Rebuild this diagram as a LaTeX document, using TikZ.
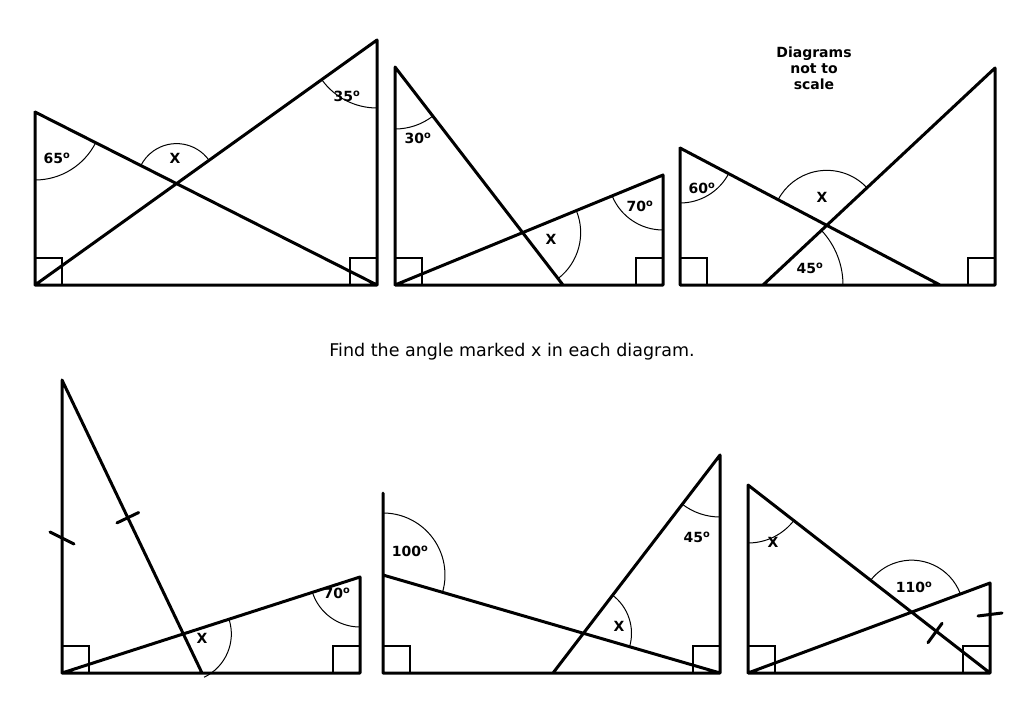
\documentclass[tikz,border=0pt]{standalone}
\usepackage{fontspec}
\setmainfont{DejaVu Sans}
\usetikzlibrary{angles, calc}

\tikzset{
  edge/.style={line width=3pt, line cap=round, line join=round},
  arcline/.style={line width=1pt},
  rsq/.style={line width=2pt},
  lbl/.style={font=\fontsize{14}{16}\selectfont\bfseries},
}
\newcommand{\dg}[1]{#1\textsuperscript{o}}

\begin{document}
\begin{tikzpicture}[x=1pt, y=-1pt]
    \useasboundingbox (0,0) rectangle (1024,709);

    % first diagram
    \coordinate (a1) at (35,112);
    \coordinate (b1) at (35,285);
    \coordinate (c1) at (377,285);
    \coordinate (d1) at (377,40);
    \coordinate (i1) at (intersection of a1--c1 and b1--d1);
    \draw[edge] (a1) -- (b1) -- (c1) -- (d1) -- (b1) (a1) -- (c1);
    \draw[rsq] (b1) rectangle ++(27,-27) (c1) rectangle ++(-27,-27);
    \pic[draw, arcline, angle radius=68] {angle = b1--a1--c1};
    \pic[draw, arcline, angle radius=68] {angle = b1--d1--c1};
    \pic[draw, arcline, angle radius=40] {angle = d1--i1--a1};
    \node[lbl] (l65) at (57,158) {\dg{65}};
    \node[lbl] (l35) at (347,96) {\dg{35}};
    \node[lbl] (x1) at (175,158) {X};

    % second diagram
    \coordinate (a2) at (395,67);
    \coordinate (b2) at (395,285);
    \coordinate (c2) at (663,285);
    \coordinate (d2) at (663,175);
    \coordinate (f2) at (563,285);
    \coordinate (i2) at (intersection of a2--f2 and b2--d2);
    \draw[edge] (a2) -- (b2) -- (c2) -- (d2) -- (b2) (a2) -- (f2);
    \draw[rsq] (b2) rectangle ++(27,-27) (c2) rectangle ++(-27,-27);
    \pic[draw, arcline, angle radius=62] {angle = b2--a2--f2};
    \pic[draw, arcline, angle radius=55] {angle = b2--d2--c2};
    \pic[draw, arcline, angle radius=58] {angle = f2--i2--d2};
    \node[lbl] (l30) at (418,138) {\dg{30}};
    \node[lbl] (l70a) at (640,206) {\dg{70}};
    \node[lbl] (x2) at (551,239) {X};

    % third diagram
    \coordinate (a3) at (680,148);
    \coordinate (b3) at (680,285);
    \coordinate (c3) at (995,285);
    \coordinate (d3) at (995,68);
    \coordinate (e3) at (940,285);
    \coordinate (g3) at (763,285);
    \coordinate (i3) at (intersection of a3--e3 and g3--d3);
    \draw[edge] (a3) -- (b3) -- (c3) -- (d3) -- (g3) (a3) -- (e3);
    \draw[rsq] (b3) rectangle ++(27,-27) (c3) rectangle ++(-27,-27);
    \pic[draw, arcline, angle radius=55] {angle = b3--a3--e3};
    \pic[draw, arcline, angle radius=55] {angle = d3--i3--a3};
    \pic[draw, arcline, angle radius=80] {angle = c3--g3--i3};
    \node[lbl] (l60) at (702,188) {\dg{60}};
    \node[lbl] (x3) at (822,197) {X};
    \node[lbl] (l45a) at (810,268) {\dg{45}};
    \node[lbl, align=center] (note) at (814,68) {Diagrams\\not to\\scale};

    \node[font=\fontsize{17.5}{20}\selectfont] (title) at (512,352)
        {Find the angle marked x in each diagram.};

    % fourth diagram
    \coordinate (a4) at (62,380);
    \coordinate (b4) at (62,673);
    \coordinate (c4) at (360,673);
    \coordinate (d4) at (360,577);
    \coordinate (f4) at (202,673);
    \coordinate (i4) at (intersection of a4--f4 and b4--d4);
    \draw[edge] (a4) -- (b4) -- (c4) -- (d4) -- (b4) (a4) -- (f4);
    \draw[rsq] (b4) rectangle ++(27,-27) (c4) rectangle ++(-27,-27);
    \pic[draw, arcline, angle radius=50] {angle = b4--d4--c4};
    \pic[draw, arcline, angle radius=48] {angle = f4--i4--d4};
    \node[lbl] (l70b) at (337,593) {\dg{70}};
    \node[lbl] (x4) at (202,638) {X};
    \coordinate (t4) at (62,538);
    \draw[edge] ($(t4)+(-12,-6)$) -- ($(t4)+(12,6)$);
    \coordinate (m4) at ($(a4)!0.47!(f4)$);
    \draw[edge] ($(m4)!12pt!90:(f4)$) -- ($(m4)!12pt!-90:(f4)$);

    % fifth diagram
    \coordinate (a5) at (383,575);
    \coordinate (t5) at (383,493);
    \coordinate (b5) at (383,673);
    \coordinate (c5) at (720,673);
    \coordinate (d5) at (720,455);
    \coordinate (g5) at (553,673);
    \coordinate (i5) at (intersection of a5--c5 and g5--d5);
    \draw[edge] (t5) -- (b5) -- (c5) -- (d5) -- (g5) (a5) -- (c5);
    \draw[rsq] (b5) rectangle ++(27,-27) (c5) rectangle ++(-27,-27);
    \pic[draw, arcline, angle radius=62] {angle = c5--a5--t5};
    \pic[draw, arcline, angle radius=62] {angle = g5--d5--c5};
    \pic[draw, arcline, angle radius=48] {angle = c5--i5--d5};
    \node[lbl] (l100) at (410,551) {\dg{100}};
    \node[lbl] (l45b) at (697,537) {\dg{45}};
    \node[lbl] (x5) at (619,626) {X};

    % sixth diagram
    \coordinate (a6) at (748,485);
    \coordinate (b6) at (748,673);
    \coordinate (c6) at (990,673);
    \coordinate (d6) at (990,583);
    \coordinate (i6) at (intersection of a6--c6 and b6--d6);
    \draw[edge] (a6) -- (b6) -- (c6) -- (d6) -- (b6) (a6) -- (c6);
    \draw[rsq] (b6) rectangle ++(27,-27) (c6) rectangle ++(-27,-27);
    \pic[draw, arcline, angle radius=58] {angle = b6--a6--c6};
    \pic[draw, arcline, angle radius=52] {angle = d6--i6--a6};
    \node[lbl] (x6) at (773,542) {X};
    \node[lbl] (l110) at (914,587) {\dg{110}};
    \draw[edge] (978,616) -- (1002,613);
    \coordinate (m6) at (935,633);
    \draw[edge] ($(m6)!12pt!90:(c6)$) -- ($(m6)!12pt!-90:(c6)$);
\end{tikzpicture}
\end{document}
